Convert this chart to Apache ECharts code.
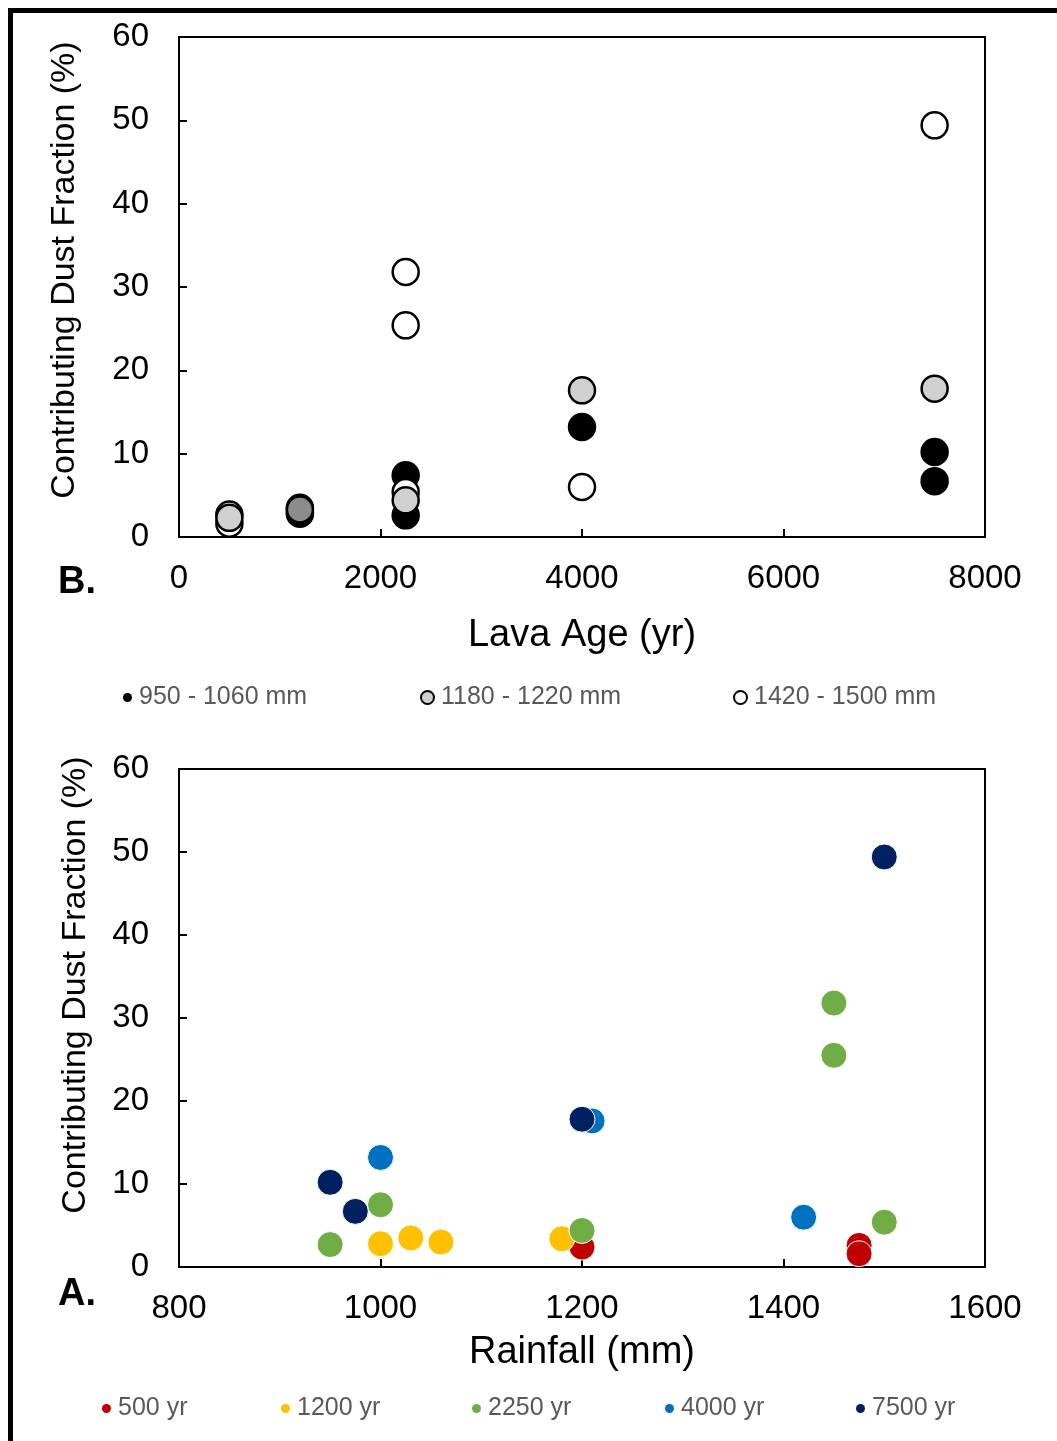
<!DOCTYPE html>
<html><head><meta charset="utf-8">
<script src="https://cdn.jsdelivr.net/npm/echarts@6/dist/echarts.min.js"></script>
<style>html,body{margin:0;padding:0;background:#fff}#c{width:1057px;height:1441px}</style>
</head><body><div id="c"></div>
<script>
// ---- Panel B: dust fraction vs lava age, grouped by rainfall ----
const ageTicks = [0, 2000, 4000, 6000, 8000];
const dryAges = [1200, 1200, 1200, 2250, 2250, 4000, 7500, 7500];
const dryVals = [2.8, 3.5, 3.0, 2.6, 7.4, 13.2, 10.2, 6.7];
const midAges = [500, 1200, 2250, 4000, 7500];
const midVals = [2.3, 3.3, 4.4, 17.6, 17.8];
const wetAges = [500, 500, 2250, 2250, 2250, 4000, 7500];
const wetVals = [2.7, 1.6, 31.8, 25.4, 5.4, 6.0, 49.4];
const rainGroups = ['950 - 1060 mm', '1180 - 1220 mm', '1420 - 1500 mm'];

// ---- Panel A: dust fraction vs rainfall, grouped by lava age ----
const rainTicks = [800, 1000, 1200, 1400, 1600];
const yr500Rain = [1200, 1475, 1475];
const yr500Vals = [2.4, 2.6, 1.6];
const yr1200Rain = [1000, 1030, 1060, 1180];
const yr1200Vals = [2.8, 3.5, 3.0, 3.4];
const yr2250Rain = [950, 1000, 1200, 1450, 1450, 1500];
const yr2250Vals = [2.7, 7.5, 4.4, 31.8, 25.5, 5.4];
const yr4000Rain = [1000, 1210, 1420];
const yr4000Vals = [13.2, 17.6, 6.0];
const yr7500Rain = [950, 975, 1200, 1500];
const yr7500Vals = [10.2, 6.7, 17.8, 49.4];
const ageGroups = ['500 yr', '1200 yr', '2250 yr', '4000 yr', '7500 yr'];
const yTicks = [0, 10, 20, 30, 40, 50, 60];

const zip = (xs, ys) => xs.map((x, i) => [x, ys[i]]);
const FONT = '"Liberation Sans", Arial, sans-serif';

const chart = echarts.init(document.getElementById('c'), null, {renderer: 'canvas'});

function xAxisCfg(grid, ticks, name, gap) {
  return {
    type: 'value', gridIndex: grid, min: ticks[0], max: ticks[ticks.length - 1],
    interval: ticks[1] - ticks[0],
    name: name, nameLocation: 'middle', nameGap: gap,
    nameTextStyle: {fontFamily: FONT, fontSize: 38, color: '#000'},
    axisLine: {show: false},
    axisTick: {show: true, inside: true, length: 8, lineStyle: {color: '#000', width: 2}},
    axisLabel: {fontFamily: FONT, fontSize: 33, color: '#000', margin: 25, formatter: v => String(v)},
    splitLine: {show: false}
  };
}
function yAxisCfg(grid) {
  return {
    type: 'value', gridIndex: grid, min: yTicks[0], max: yTicks[yTicks.length - 1],
    interval: yTicks[1] - yTicks[0],
    axisLine: {show: false},
    axisTick: {show: true, inside: true, length: 8, lineStyle: {color: '#000', width: 2}},
    axisLabel: {fontFamily: FONT, fontSize: 33, color: '#000', margin: 30, formatter: v => String(v)},
    splitLine: {show: false}
  };
}

const bwSeries = (name, data, fill, z) => ({
  name: name, type: 'scatter', xAxisIndex: 0, yAxisIndex: 0, z: z,
  symbol: 'circle', symbolSize: 26, data: data,
  itemStyle: {color: fill, borderColor: '#000', borderWidth: 2.5, opacity: 1},
  emphasis: {disabled: true}
});
const colSeries = (name, data, fill) => ({
  name: name, type: 'scatter', xAxisIndex: 1, yAxisIndex: 1,
  symbol: 'circle', symbolSize: 26, data: data,
  itemStyle: {color: fill, borderColor: '#fff', borderWidth: 1, opacity: 1},
  emphasis: {disabled: true}
});

const midData = zip(midAges, midVals).map((p, i) =>
  midAges[i] === 1200 ? {value: p, itemStyle: {color: '#8c8c8c'}} : p);

const ageColors = ['#C00000', '#FFC000', '#70AD47', '#0070C0', '#002060'];

function legendItem(name, left, top, w, h, extraStyle) {
  return {
    data: [name], left: left, top: top, orient: 'horizontal',
    itemWidth: w, itemHeight: h, itemGap: 0, padding: 0,
    selectedMode: false,
    textStyle: {fontFamily: FONT, fontSize: 25, color: '#595959', padding: [0, 0, 0, 2]},
    itemStyle: extraStyle || {}
  };
}

const option = {
  backgroundColor: '#fff',
  animation: false,
  grid: [
    {left: 179, top: 37, width: 806, height: 500, show: true, borderColor: '#000', borderWidth: 2, backgroundColor: '#fff'},
    {left: 179, top: 769, width: 806, height: 498, show: true, borderColor: '#000', borderWidth: 2, backgroundColor: '#fff'}
  ],
  xAxis: [xAxisCfg(0, ageTicks, 'Lava Age (yr)', 80), xAxisCfg(1, rainTicks, 'Rainfall (mm)', 67)],
  yAxis: [yAxisCfg(0), yAxisCfg(1)],
  legend: [
    legendItem(rainGroups[0], 123, 685, 9, 9, {borderWidth: 0}),
    legendItem(rainGroups[1], 420, 685, 13, 13, {borderWidth: 2}),
    legendItem(rainGroups[2], 733, 685, 13, 13, {borderWidth: 2}),
    legendItem(ageGroups[0], 102, 1396, 9, 11, {borderWidth: 0}),
    legendItem(ageGroups[1], 281, 1396, 9, 11, {borderWidth: 0}),
    legendItem(ageGroups[2], 472, 1396, 9, 11, {borderWidth: 0}),
    legendItem(ageGroups[3], 665, 1396, 9, 11, {borderWidth: 0}),
    legendItem(ageGroups[4], 856, 1396, 9, 11, {borderWidth: 0})
  ],
  series: [
    bwSeries(rainGroups[0], zip(dryAges, dryVals), '#000', 2),
    bwSeries(rainGroups[1], midData, '#d0d0d0', 4),
    bwSeries(rainGroups[2], zip(wetAges, wetVals), '#fff', 3),
    colSeries(ageGroups[0], zip(yr500Rain, yr500Vals), ageColors[0]),
    colSeries(ageGroups[1], zip(yr1200Rain, yr1200Vals), ageColors[1]),
    colSeries(ageGroups[2], zip(yr2250Rain, yr2250Vals), ageColors[2]),
    colSeries(ageGroups[3], zip(yr4000Rain, yr4000Vals), ageColors[3]),
    colSeries(ageGroups[4], zip(yr7500Rain, yr7500Vals), ageColors[4])
  ],
  graphic: [
    {type: 'line', shape: {x1: 8, y1: 10.5, x2: 1057, y2: 10.5}, style: {stroke: '#000', lineWidth: 5}},
    {type: 'line', shape: {x1: 10.5, y1: 8, x2: 10.5, y2: 1441}, style: {stroke: '#000', lineWidth: 5}},
    {type: 'text', x: 65, y: 270, rotation: Math.PI / 2,
     style: {text: 'Contributing Dust Fraction (%)', fontFamily: FONT, fontSize: 34, fill: '#000', align: 'center', verticalAlign: 'middle'}},
    {type: 'text', x: 76, y: 985, rotation: Math.PI / 2,
     style: {text: 'Contributing Dust Fraction (%)', fontFamily: FONT, fontSize: 34, fill: '#000', align: 'center', verticalAlign: 'middle'}},
    {type: 'text', x: 58, y: 583,
     style: {text: 'B.', fontFamily: FONT, fontSize: 38, fontWeight: 'bold', fill: '#000', align: 'left', verticalAlign: 'middle'}},
    {type: 'text', x: 58, y: 1295,
     style: {text: 'A.', fontFamily: FONT, fontSize: 38, fontWeight: 'bold', fill: '#000', align: 'left', verticalAlign: 'middle'}}
  ]
};
chart.setOption(option);
</script>
</body></html>
